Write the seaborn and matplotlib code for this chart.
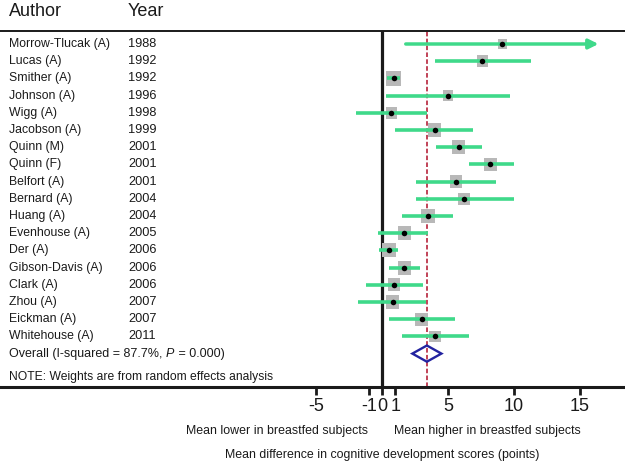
import numpy as np
import pandas as pd
import matplotlib
matplotlib.use('Agg')
import matplotlib.pyplot as plt
import seaborn as sns

# study data
authors = ['Morrow-Tlucak (A)', 'Lucas (A)', 'Smither (A)', 'Johnson (A)', 'Wigg (A)',
           'Jacobson (A)', 'Quinn (M)', 'Quinn (F)', 'Belfort (A)', 'Bernard (A)',
           'Huang (A)', 'Evenhouse (A)', 'Der (A)', 'Gibson-Davis (A)', 'Clark (A)',
           'Zhou (A)', 'Eickman (A)', 'Whitehouse (A)']
years = ['1988', '1992', '1992', '1996', '1998', '1999', '2001', '2001', '2001', '2004',
         '2004', '2005', '2006', '2006', '2006', '2007', '2007', '2011']
effect = [9.1, 7.6, 0.9, 5.0, 0.7, 4.0, 5.8, 8.2, 5.6, 6.2,
          3.5, 1.7, 0.5, 1.7, 0.9, 0.8, 3.0, 4.0]
ci_low = [1.8, 4.0, 0.4, 0.3, -2.0, 1.0, 4.1, 6.6, 2.6, 2.6,
          1.5, -0.3, -0.2, 0.5, -1.2, -1.8, 0.5, 1.5]
ci_high = [16.4, 11.3, 1.4, 9.7, 3.4, 6.9, 7.6, 10.0, 8.6, 10.0,
           5.4, 3.5, 1.2, 2.9, 3.1, 3.3, 5.5, 6.6]
weights = [2.9, 4.5, 7.6, 3.7, 4.5, 6.0, 6.4, 6.2, 5.3, 4.5,
           6.4, 6.6, 6.6, 6.6, 5.5, 6.4, 5.5, 4.6]
overall = 3.4
overall_low = 2.3
overall_high = 4.5
ticks = [-5, -1, 0, 1, 5, 10, 15]

df = pd.DataFrame({'author': authors, 'year': years, 'effect': effect,
                   'lo': ci_low, 'hi': ci_high, 'w': weights})
df['row'] = np.arange(len(df))
overall_row = len(df)

sns.set_theme(style='white')
plt.rcParams['font.family'] = ['Liberation Sans', 'DejaVu Sans']

W, H = 625, 463
fig = plt.figure(figsize=(W / 100, H / 100), dpi=100)
top_px, bot_px = 31, 387
ax = fig.add_axes([0, 1 - bot_px / H, 1, (bot_px - top_px) / H])

# pixel mapping: x=0 at 382px, 13.2 px per unit; rows start at 44px, 17.2 px apart
x0, ppu = 382, 13.2
ax.set_xlim((0 - x0) / ppu, (W - x0) / ppu)
ax.set_ylim((bot_px - 44) / 17.2, (top_px - 44) / 17.2)

green = '#3fd98a'
clip = 16.4

# null line and overall dashed line
ax.axvline(0, color='#1a1a1a', lw=2.3, zorder=1)
ax.axvline(overall, color='#b0102a', lw=1.1, ls=(0, (3, 1.5)), zorder=1)

# grey weight boxes
sns.scatterplot(data=df, x='effect', y='row', marker='s', color='#b8b8b8',
                s=df['w'] * 15, linewidth=0, ax=ax, zorder=2, legend=False)

# confidence intervals
for _, r in df.iterrows():
    if r['hi'] >= clip:
        ax.annotate('', xy=(clip, r['row']), xytext=(r['lo'], r['row']),
                    arrowprops=dict(arrowstyle='-|>', color=green, lw=2.5,
                                    mutation_scale=14, shrinkA=0, shrinkB=0), zorder=3)
    else:
        ax.hlines(r['row'], r['lo'], r['hi'], color=green, lw=2.6, zorder=3)

# point estimates
sns.scatterplot(data=df, x='effect', y='row', color='black', s=16, linewidth=0,
                ax=ax, zorder=4, legend=False)

# overall diamond
dh = 0.47
ax.fill([overall_low, overall, overall_high, overall],
        [overall_row, overall_row - dh, overall_row, overall_row + dh],
        facecolor='none', edgecolor='#2323a0', lw=1.7, zorder=4)

# axes styling
for s in ['left', 'right']:
    ax.spines[s].set_visible(False)
ax.spines['top'].set_linewidth(1.4)
ax.spines['bottom'].set_linewidth(2.2)
ax.spines['top'].set_color('#1a1a1a')
ax.spines['bottom'].set_color('#1a1a1a')
ax.set_yticks([])
ax.set_xticks(ticks)
ax.set_xticklabels([str(t) for t in ticks])
ax.tick_params(axis='x', direction='out', length=6, width=2, colors='#1a1a1a',
               labelsize=13, pad=2, bottom=True)
ax.set_xlabel('')
ax.set_ylabel('')

def ftext(xp, yp, s, **kw):
    return fig.text(xp / W, 1 - yp / H, s, va='center', color='#1a1a1a', **kw)

ftext(9, 11, 'Author', fontsize=13)
ftext(128, 11, 'Year', fontsize=13)
for i, (a, y) in enumerate(zip(authors, years)):
    yp = 44 + 17.2 * i
    ftext(9, yp, a, fontsize=8.8)
    ftext(128, yp, y, fontsize=9.2)

# overall label with italic P, assembled from pieces
renderer = fig.canvas.get_renderer()
oy = 44 + 17.2 * overall_row
xp = 9
for piece, style in [('Overall (I-squared = 87.7%, ', 'normal'), ('P', 'italic'),
                     (' = 0.000)', 'normal')]:
    t = ftext(xp, oy, piece, fontsize=9, fontstyle=style)
    xp = t.get_window_extent(renderer).x1 + (0.5 if style == 'italic' else 0)

ftext(9, 377, 'NOTE: Weights are from random effects analysis', fontsize=8.7)

ftext(277, 431, 'Mean lower in breastfed subjects', fontsize=8.9, ha='center')
ftext(487, 431, 'Mean higher in breastfed subjects', fontsize=8.9, ha='center')
ftext(382, 455, 'Mean difference in cognitive development scores (points)', fontsize=8.9, ha='center')

fig.savefig('out.png', dpi=100)
